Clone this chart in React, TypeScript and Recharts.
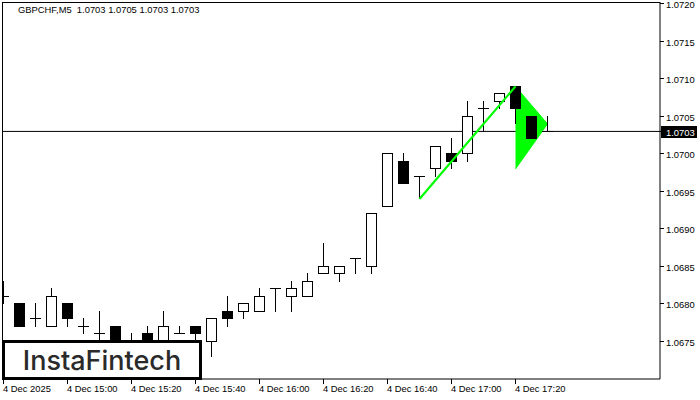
import React from "react";
import { ComposedChart, XAxis, YAxis, Bar, Line, Area } from "recharts";

const opens = [1.0681,1.0680,1.0678,1.0677,1.0680,1.0677,1.0676,1.0677,1.0674,1.0676,1.0674,1.0676,1.0677,1.0675,1.0679,1.0679,1.0679,1.0682,1.0681,1.0681,1.0684,1.0684,1.0686,1.0685,1.0693,1.0699,1.0697,1.0698,1.0700,1.0700,1.0706,1.0707,1.0709,1.0705,1.0703];
const highs = [1.0683,1.0680,1.0680,1.0682,1.0680,1.0678,1.0679,1.0677,1.0676,1.0677,1.0679,1.0677,1.0677,1.0678,1.0681,1.0680,1.0682,1.0682,1.0683,1.0684,1.0688,1.0685,1.0686,1.0692,1.0700,1.0700,1.0697,1.0701,1.0702,1.0707,1.0707,1.0708,1.0709,1.0705,1.0705];
const lows = [1.0680,1.0677,1.0677,1.0677,1.0677,1.0676,1.0675,1.0673,1.0673,1.0673,1.0673,1.0676,1.0675,1.0673,1.0677,1.0678,1.0679,1.0679,1.0679,1.0681,1.0684,1.0683,1.0684,1.0684,1.0693,1.0696,1.0694,1.0697,1.0698,1.0699,1.0703,1.0706,1.0704,1.0702,1.0703];
const closes = [1.0681,1.0677,1.0678,1.0681,1.0678,1.0677,1.0676,1.0674,1.0675,1.0674,1.0677,1.0676,1.0676,1.0678,1.0678,1.0680,1.0681,1.0682,1.0682,1.0683,1.0685,1.0685,1.0686,1.0692,1.0700,1.0696,1.0697,1.0701,1.0699,1.0705,1.0706,1.0708,1.0706,1.0702,1.0703];

const poleLine: Record<number, number> = { 26: 1.0694, 32: 1.0709 };
const flagBand: Record<number, [number, number]> = { 32: [1.0698, 1.0709], 34: [1.0704, 1.0704] };

const priceTicks = [1.0675,1.068,1.0685,1.069,1.0695,1.07,1.0703,1.0705,1.071,1.0715,1.072];
const timeTicks = [0,4,8,12,16,20,24,28,32];
const timeLabels = ["4 Dec 2025","4 Dec 15:00","4 Dec 15:20","4 Dec 15:40","4 Dec 16:00","4 Dec 16:20","4 Dec 16:40","4 Dec 17:00","4 Dec 17:20"];
const lastPrice = 1.0703;
const xDomain = [-0.09375, 41.03125];
const lastLine = xDomain.map((i) => ({ i, last: lastPrice }));
const header = "GBPCHF,M5  1.0703 1.0705 1.0703 1.0703";
const brand = "InstaFintech";

const data = opens.map((o, i) => ({
  i, open: o, high: highs[i], low: lows[i], close: closes[i],
  range: [lows[i], highs[i]],
  pole: poleLine[i] ?? null,
  flag: flagBand[i] ?? null,
}));

const AXIS_FONT = "'Liberation Sans', sans-serif";
const AXIS_SIZE = 9.4;

function Candle(props: any) {
  const { x, y, width, height, payload } = props;
  const { open, high, low, close } = payload;
  const py = (v: number) => y + ((high - v) / (high - low)) * height;
  const cx = Math.floor(x + width / 2) + 0.5;
  const top = Math.floor(py(Math.max(open, close))) + 0.5;
  const bot = Math.floor(py(Math.min(open, close))) + 0.5;
  const yh = Math.floor(py(high));
  const yl = Math.floor(py(low)) + 1;
  const up = close > open;
  const down = close < open;
  return (
    <g>
      <line x1={cx} x2={cx} y1={yh} y2={yl} stroke="#000" strokeWidth={1} />
      {up && <rect x={cx - 5} y={top} width={10} height={bot - top} fill="#fff" stroke="#000" strokeWidth={1} />}
      {down && <rect x={cx - 5} y={top} width={10} height={bot - top} fill="#000" stroke="#000" strokeWidth={1} />}
      {!up && !down && <line x1={cx - 5.5} x2={cx + 5.5} y1={top} y2={top} stroke="#000" strokeWidth={1} />}
    </g>
  );
}

function TimeTick(props: any) {
  const { x, index } = props;
  return (
    <g>
      <line x1={x} x2={x} y1={379} y2={384} stroke="#000" strokeWidth={1} />
      <text x={x - 0.5} y={392} fontSize={AXIS_SIZE} fontFamily={AXIS_FONT} fill="#000" textAnchor="start">
        {timeLabels[index]}
      </text>
    </g>
  );
}

function PriceTick(props: any) {
  const { y, payload } = props;
  const v = payload.value as number;
  const isLast = Math.abs(v - lastPrice) < 1e-6;
  const yy = Math.floor(y) + 0.5;
  return (
    <g>
      <line x1={660} x2={664} y1={yy} y2={yy} stroke="#000" strokeWidth={1} />
      {isLast && <rect x={661} y={yy - 5.5} width={36} height={12} fill="#000" />}
      <text x={666} y={yy + 4} fontSize={AXIS_SIZE} fontFamily={AXIS_FONT} fill={isLast ? "#fff" : "#000"} textAnchor="start">
        {v.toFixed(4)}
      </text>
    </g>
  );
}

export default function App() {
  return (
    <div style={{ position: "absolute", left: 0, top: 0, width: 700, height: 400, background: "#fff", overflow: "hidden" }}>
      <ComposedChart width={700} height={400} data={data} margin={{ top: 2, right: 0, bottom: 0, left: 2 }}>
        <XAxis
          dataKey="i"
          type="number"
          domain={xDomain}
          allowDataOverflow
          ticks={timeTicks}
          interval={0}
          height={21}
          tick={<TimeTick />}
          tickLine={false}
          axisLine={{ stroke: "#000" }}
        />
        <YAxis
          orientation="right"
          type="number"
          width={40}
          domain={[1.0670, 1.072025]}
          allowDataOverflow
          ticks={priceTicks}
          interval={0}
          tick={<PriceTick />}
          tickLine={false}
          axisLine={{ stroke: "#000" }}
        />
        <Area data={lastLine} dataKey="last" baseValue={lastPrice} stroke="#000" strokeWidth={1} fill="none" dot={false} activeDot={false} isAnimationActive={false} />
        <Area dataKey="flag" connectNulls stroke="#00ff00" strokeWidth={1} fill="#00ff00" fillOpacity={1} isAnimationActive={false} dot={false} activeDot={false} />
        <Bar dataKey="range" barSize={11} shape={<Candle />} isAnimationActive={false} />
        <Line dataKey="pole" connectNulls stroke="#00ff00" strokeWidth={2.2} dot={false} activeDot={false} isAnimationActive={false} />
      </ComposedChart>
      <div style={{ position: "absolute", left: 2, top: 2, width: 658, height: 377, borderTop: "1px solid #000", borderLeft: "1px solid #000", boxSizing: "border-box", pointerEvents: "none" }} />
      <div style={{ position: "absolute", left: 18, top: 4, fontFamily: AXIS_FONT, fontSize: AXIS_SIZE, lineHeight: "12px", color: "#000", whiteSpace: "pre" }}>{header}</div>
      <div style={{ position: "absolute", left: 2, top: 340, width: 200, height: 40, boxSizing: "border-box", border: "3px solid #000", background: "#fff", display: "flex", alignItems: "center", justifyContent: "center", fontFamily: "Inter, 'Noto Sans', sans-serif", fontSize: 27, fontWeight: 500, color: "#2a2a2a" }}>{brand}</div>
    </div>
  );
}
